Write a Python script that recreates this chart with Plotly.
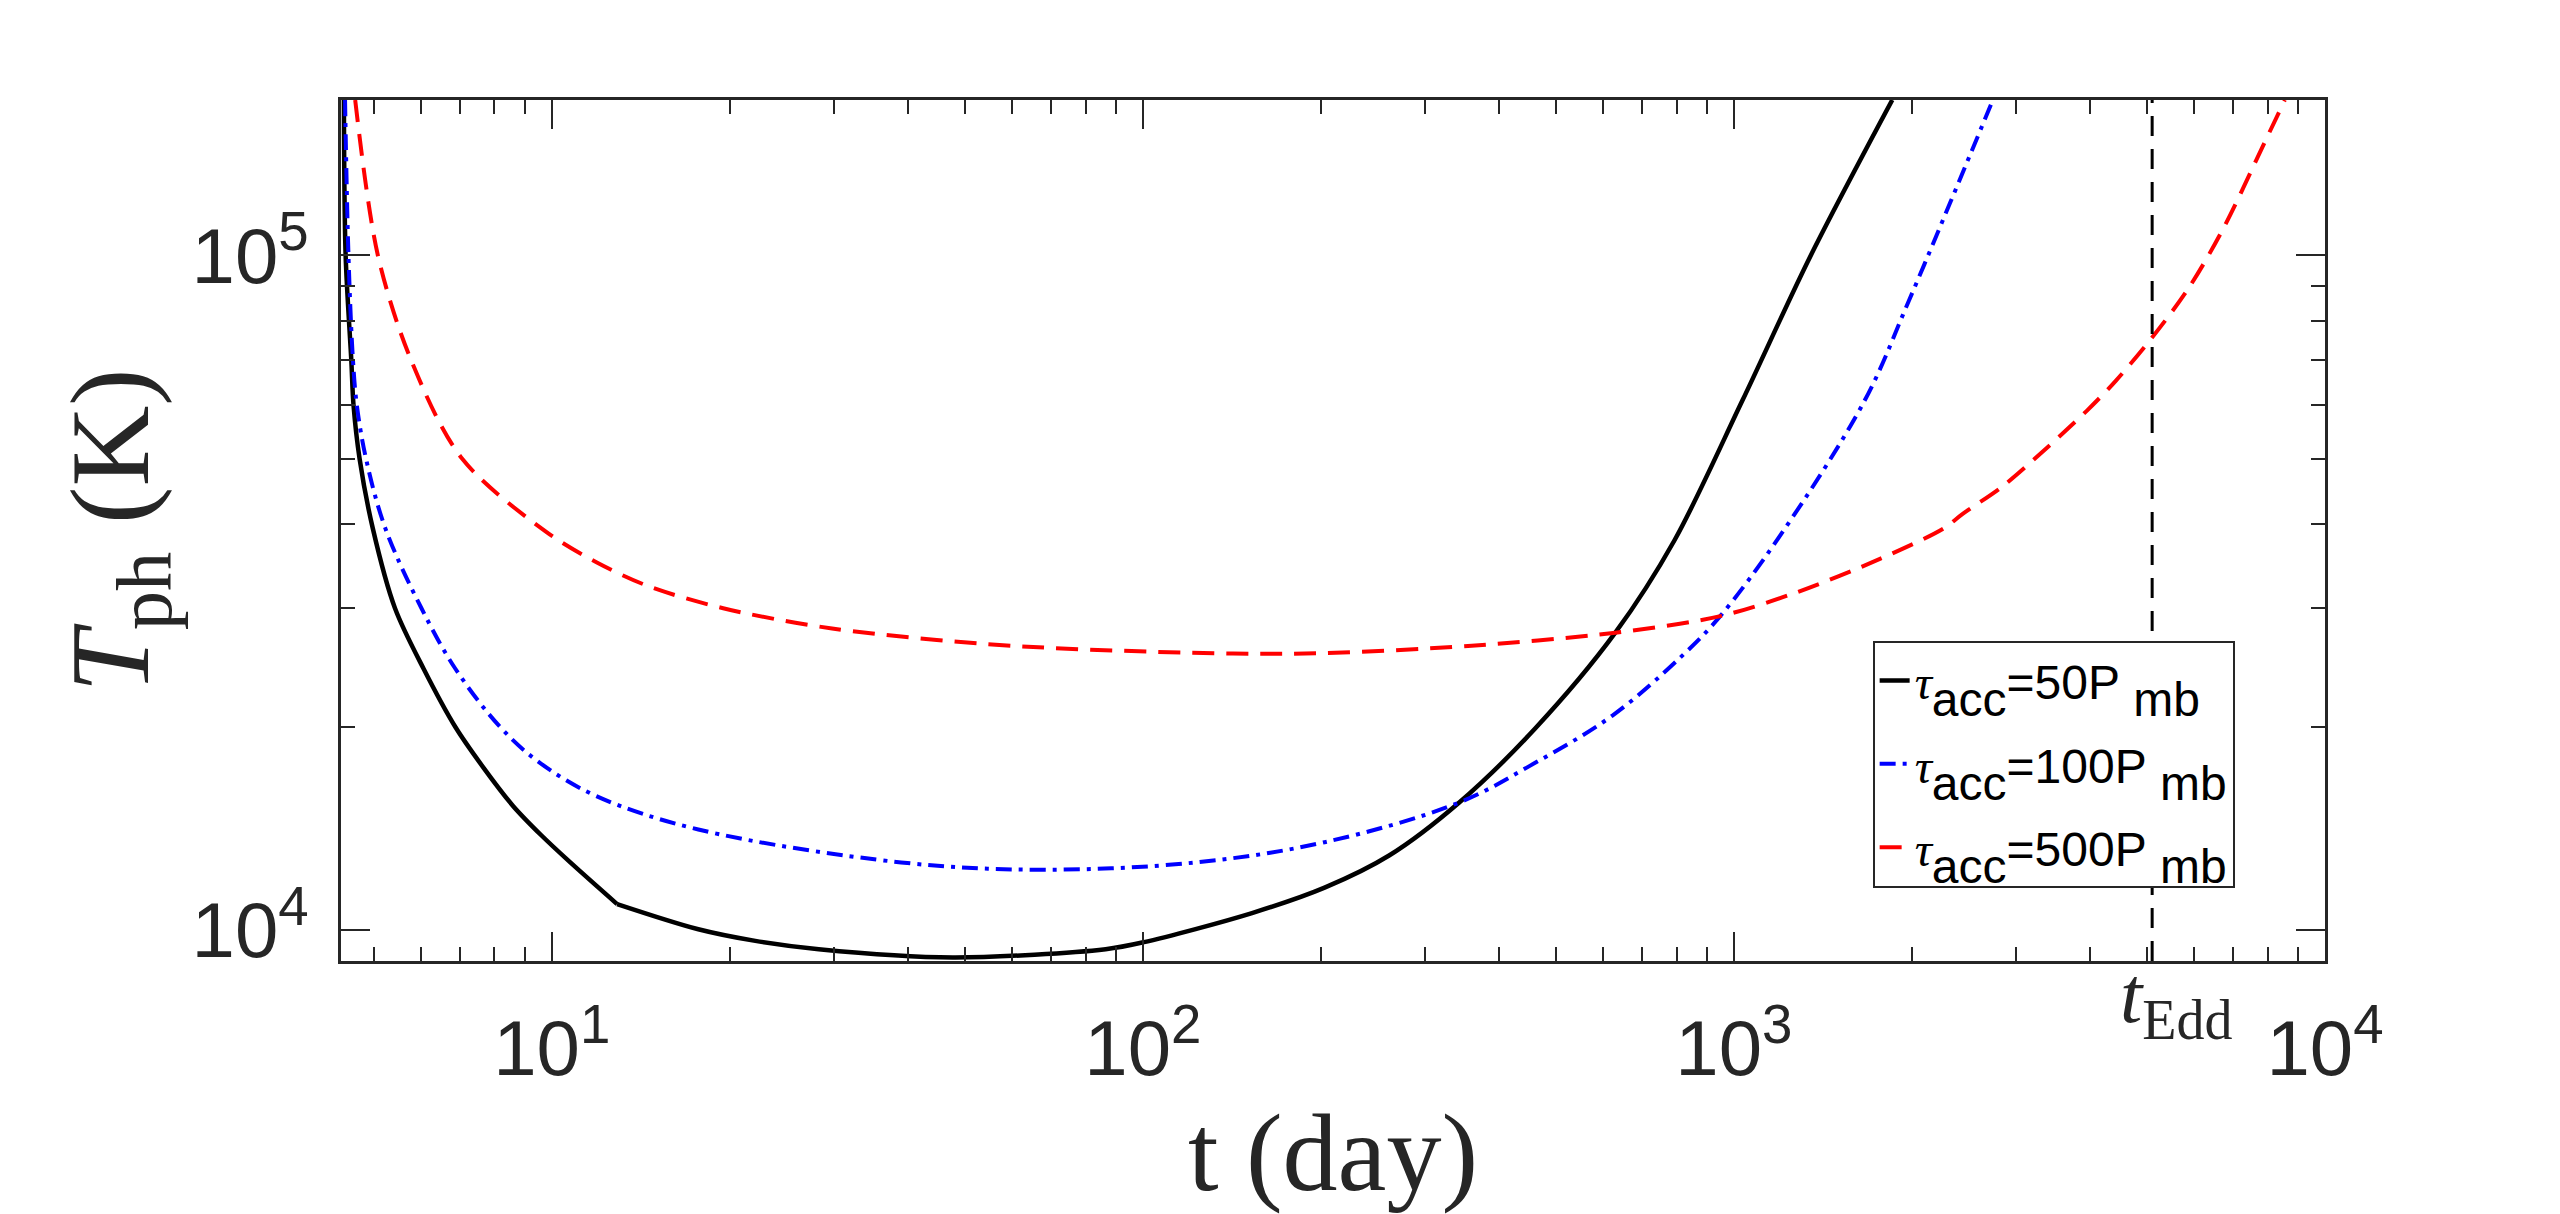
"""Photosphere temperature vs time for three accretion timescales"""

import numpy as np
import plotly.graph_objects as go

# values: t in days, T_ph in K
# tau_acc = 50 P_mb has a kink at t ~ 13 d, so it is kept in two pieces
t_50_early = [4.45, 4.48, 4.58, 4.62, 4.73, 4.98, 5.43, 6.07, 6.87, 7.69, 8.60, 9.62,
              10.75, 12.9]
T_50_early = [170000, 100000, 70000, 60000, 50000, 39400, 30000, 24400, 20000, 17340,
              15280, 13800, 12600, 10930]
t_50_late = [12.9, 17.7, 22.1, 28.3, 47.7, 86.5, 100, 153, 203, 261, 343, 461, 630,
             793, 1034, 1349, 1853]
T_50_late = [10930, 10030, 9640, 9370, 9110, 9370, 9590, 10600, 11560, 12900, 15460,
             19900, 27600, 37800, 61000, 100000, 170000]

t_100 = [4.47, 4.53, 4.61, 4.68, 4.85, 5.23, 6.02, 6.87, 8.18, 9.5, 11.9, 17.7, 39,
         67.6, 123, 203, 343, 461, 623, 817, 948, 1201, 1665, 1977, 2331, 2742]
T_100 = [170000, 100000, 70000, 60000, 50000, 39400, 30000, 24400, 20000, 17760, 15800,
         14100, 12600, 12290, 12600, 13500, 15460, 17700, 20800, 25500, 29200, 38600,
         61000, 85700, 120700, 170000]

t_500 = [4.65, 5.08, 5.78, 7.05, 9.8, 11.9, 14.5, 19.5, 29.8, 59.7, 142, 203, 360, 630,
         948, 1280, 1766, 2264, 2438, 2831, 3206, 3957, 4426, 5095, 5890, 6750, 7840,
         8550]
T_500 = [170000, 100000, 70000, 50000, 38900, 35100, 32400, 30000, 28000, 26400, 25700,
         25740, 26400, 27600, 29200, 31700, 35500, 39400, 41400, 45300, 49700, 58900,
         65200, 75500, 89700, 110200, 144900, 170000]

t_edd = 5100

x_lim = [4.4, 1.0e4]
y_lim = [9.0e3, 1.7e5]

x_major = [10, 100, 1000, 10000]
x_major_text = ['10<sup>1</sup>', '10<sup>2</sup>', '10<sup>3</sup>', '10<sup>4</sup>']
y_major = [1e4, 1e5]
y_major_text = ['10<sup>4</sup>', '10<sup>5</sup>']

labels = ['50', '100', '500']

ink = '#262626'
sans = 'Liberation Sans, Arial, sans-serif'
serif = 'Liberation Serif, Times New Roman, serif'


def legend_name(n):
    return ("<span style='font-family:Liberation Serif'><i>τ</i></span>"
            "<sub><sub><span style='font-size:48px'>acc</span></sub></sub>"
            f"={n}P<sub><sub><span style='font-size:48px'> mb</span></sub></sub>")


x_minor = [m * 10 ** k for k in range(0, 4) for m in range(2, 10)]
x_minor = [v for v in x_minor if x_lim[0] <= v <= x_lim[1]]
y_minor = [m * 10 ** k for k in range(3, 6) for m in range(2, 10)]
y_minor = [v for v in y_minor if y_lim[0] <= v <= y_lim[1]]

fig = go.Figure()

black = dict(color='black', width=4.5, shape='spline', smoothing=0.9)
fig.add_trace(go.Scatter(x=t_50_early, y=T_50_early, mode='lines', name=legend_name(labels[0]),
                         legendgroup='g50', line=black))
fig.add_trace(go.Scatter(x=t_50_late, y=T_50_late, mode='lines', name=legend_name(labels[0]),
                         legendgroup='g50', showlegend=False, line=black))
fig.add_trace(go.Scatter(x=t_100, y=T_100, mode='lines', name=legend_name(labels[1]),
                         legendgroup='g100',
                         line=dict(color='#0000ff', width=4, dash='16px,7px,4px,7px',
                                   shape='spline', smoothing=1.0)))
fig.add_trace(go.Scatter(x=t_500, y=T_500, mode='lines', name=legend_name(labels[2]),
                         legendgroup='g500',
                         line=dict(color='#ff0000', width=4, dash='22px,12px',
                                   shape='spline', smoothing=0.9)))
fig.add_trace(go.Scatter(x=[t_edd, t_edd], y=y_lim, mode='lines', showlegend=False,
                         line=dict(color='black', width=3, dash='20px,13px')))

axis_common = dict(
    type='log',
    showgrid=False,
    zeroline=False,
    showline=True,
    linecolor=ink,
    linewidth=2.5,
    mirror='ticks',
    ticks='inside',
    ticklen=29,
    tickwidth=2,
    tickcolor=ink,
    tickmode='array',
    tickfont=dict(family=sans, size=78, color=ink),
)

fig.update_xaxes(
    **axis_common,
    range=[np.log10(x_lim[0]), np.log10(x_lim[1])],
    tickvals=x_major,
    ticktext=x_major_text,
    ticklabelstandoff=18,
    minor=dict(tickmode='array', tickvals=x_minor, ticks='inside', ticklen=14,
               tickwidth=2, tickcolor=ink, showgrid=False),
    title=dict(text='t (day)', font=dict(family=serif, size=110, color=ink), standoff=4),
)
fig.update_yaxes(
    **axis_common,
    range=[np.log10(y_lim[0]), np.log10(y_lim[1])],
    tickvals=y_major,
    ticktext=y_major_text,
    ticklabelstandoff=14,
    minor=dict(tickmode='array', tickvals=y_minor, ticks='inside', ticklen=14,
               tickwidth=2, tickcolor=ink, showgrid=False),
    title=dict(text='<i>T</i><sub>ph</sub> (K)', font=dict(family=serif, size=112, color=ink),
               standoff=6),
)

fig.add_annotation(
    x=np.log10(t_edd), y=0, xref='x', yref='paper',
    text='<i>t</i><sub>Edd</sub>', showarrow=False,
    font=dict(family=serif, size=80, color=ink),
    xanchor='center', yanchor='top', xshift=24, yshift=12,
)

fig.update_layout(
    width=2560,
    height=1214,
    margin=dict(l=333, r=243, t=92, b=261, autoexpand=False),
    paper_bgcolor='white',
    plot_bgcolor='white',
    showlegend=True,
    legend=dict(
        x=0.772, y=0.372, xanchor='left', yanchor='top',
        bgcolor='white', bordercolor=ink, borderwidth=2,
        font=dict(family=sans, size=48, color='black'),
        traceorder='grouped', tracegroupgap=18,
    ),
)

fig.write_html("out.html")
